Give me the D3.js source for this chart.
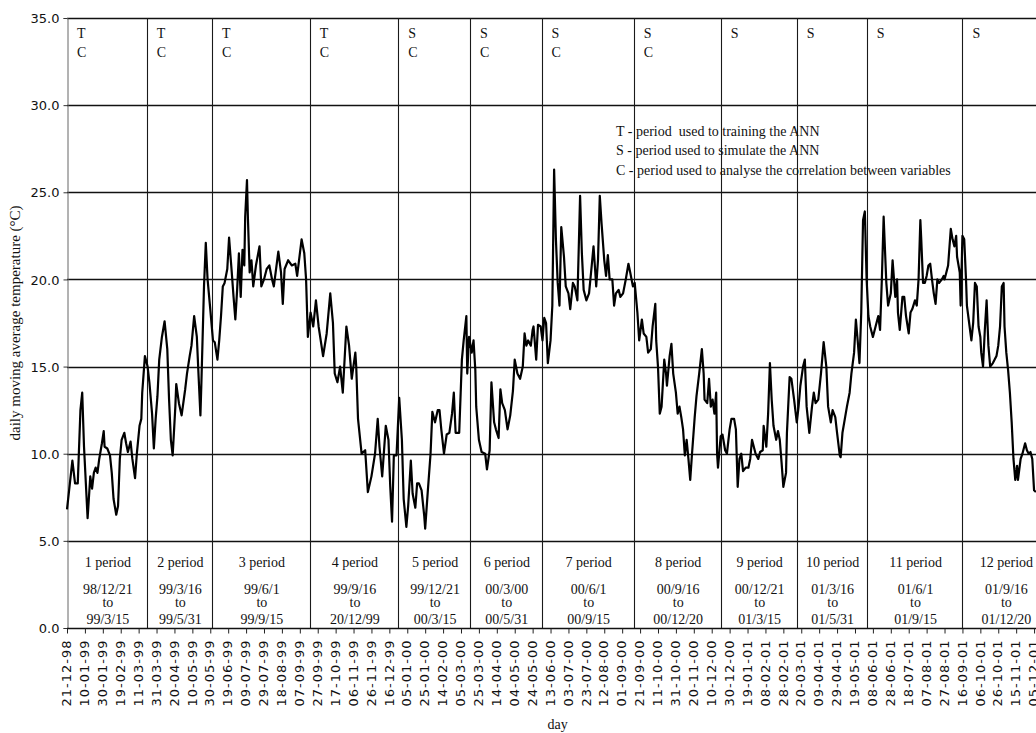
<!DOCTYPE html>
<html>
<head>
<meta charset="utf-8">
<script src="https://cdn.jsdelivr.net/npm/d3@7"></script>
<style>
  body { margin: 0; background: #fff; }
  svg { display: block; }
</style>
</head>
<body>
<svg id="chart" width="1036" height="733"></svg>
<script>
// Day labels along the x axis, one every 20 days from 21-12-98
const tickLabels = [
  "21-12-98","10-01-99","30-01-99","19-02-99","11-03-99","31-03-99","20-04-99","10-05-99",
  "30-05-99","19-06-99","09-07-99","29-07-99","18-08-99","07-09-99","27-09-99","17-10-99",
  "06-11-99","26-11-99","16-12-99","05-01-00","25-01-00","14-02-00","05-03-00","25-03-00",
  "14-04-00","04-05-00","24-05-00","13-06-00","03-07-00","23-07-00","12-08-00","01-09-00",
  "21-09-00","11-10-00","31-10-00","20-11-00","10-12-00","30-12-00","19-01-01","08-02-01",
  "28-02-01","20-03-01","09-04-01","29-04-01","19-05-01","08-06-01","28-06-01","18-07-01",
  "07-08-01","27-08-01","16-09-01","06-10-01","26-10-01","15-11-01","05-12-01"
];
const tickStepDays = 20;
const totalDays = 1096;

// Daily moving average temperature (°C): day number since 21-12-98 and value
const readingDays = [
  0,6,9,12,15,17,19,23,26,28,30,32,34,36,39,41,42,45,48,50,52,55,57,59,61,64,66,68,71,73,76,78,81,83,84,87,90,92,95,97,99,
  101,103,106,109,112,114,116,118,121,122,125,128,132,134,137,139,142,145,147,149,150,153,155,157,160,163,165,168,170,172,174,176,179,
  181,184,186,188,190,192,194,196,198,199,201,202,204,206,208,211,215,217,220,223,226,229,231,236,239,241,243,247,251,255,257,
  262,265,267,269,272,275,278,281,286,290,294,297,299,302,305,308,312,315,318,322,323,325,329,333,336,340,344,347,349,352,356,359,
  361,363,365,368,371,374,376,379,381,384,386,389,391,393,396,399,400,403,406,408,411,414,416,418,421,424,427,430,432,434,438,
  441,443,446,447,449,452,454,456,457,460,463,467,469,472,474,477,479,482,484,486,489,492,495,498,500,503,506,509,511,513,515,
  518,520,521,524,526,529,531,533,535,537,540,542,544,546,548,550,552,555,557,560,562,565,567,570,573,575,577,580,583,586,588,
  590,591,593,595,597,600,602,604,606,609,611,613,616,618,621,624,627,629,632,634,637,639,642,644,647,649,652,654,657,658,660,
  662,664,667,669,670,673,675,677,680,682,684,686,688,690,692,694,696,698,701,703,706,709,711,712,715,717,
  719,721,723,725,726,727,730,732,735,737,740,742,745,747,749,751,753,755,758,761,763,765,767,769,772,774,777,778,781,783,785,
  787,789,792,794,796,798,800,803,804,807,809,812,815,817,819,822,824,826,829,832,834,836,839,842,845,848,850,853,855,858,860,
  863,864,866,869,871,874,876,879,881,883,885,887,889,891,893,895,897,900,903,906,908,910,912,915,917,920,922,925,927,928,930,
  933,935,937,940,942,944,947,949,951,953,954,956,958,960,962,964,966,968,970,972,974,977,979,980,982,984,987,989,991,993,994,
  997,998,1000,1002,1004,1005,1008,1010,1012,1014,1016,1018,1020,1021,1023,1025,1027,1029,1031,1034,1036,1038,1040,1042,1044,
  1046,1047,1049,1051,1053,1055,1057,1059,1061,1062,1065,1067,1070,1072,1074,1076,1078,1080,1082
];
const readingTemps = [
  6.8,9.6,8.3,8.3,12.5,13.5,10.4,6.3,8.7,8.0,8.9,9.2,8.9,9.7,10.6,11.3,10.4,10.3,9.9,8.9,7.4,6.5,7.0,9.7,10.8,11.2,10.6,10.1,10.7,9.7,8.6,10.0,11.6,12.0,13.5,15.6,15.0,14.1,12.3,10.3,12.0,
  13.3,15.4,16.7,17.6,16.0,13.1,10.8,9.9,12.7,14.0,12.9,12.2,13.7,14.6,15.6,16.2,17.9,16.7,14.4,12.2,13.9,19.6,22.1,20.0,18.3,16.5,16.4,15.4,16.5,17.9,19.6,19.8,20.6,
  22.4,20.4,19.0,17.7,19.4,21.5,19.0,21.7,20.8,23.6,25.7,23.6,20.4,21.1,19.6,20.8,21.9,19.6,20.0,20.6,20.8,20.0,19.6,21.6,20.4,18.6,20.6,21.1,20.8,20.9,20.2,
  22.3,21.5,20.0,16.7,18.1,17.3,18.8,17.3,15.6,16.9,19.2,17.5,14.6,14.1,15.0,13.5,17.3,16.2,14.3,15.8,15.0,12.0,10.0,10.2,7.8,8.7,10.0,12.0,10.4,8.7,11.6,10.8,
  8.1,6.1,9.9,9.9,13.2,10.8,7.4,5.8,7.0,9.6,7.7,6.9,8.3,8.3,7.9,6.4,5.7,7.9,10.0,12.4,11.8,12.5,12.5,11.4,10.0,11.1,11.2,12.3,13.5,11.2,11.2,
  15.4,16.5,17.9,14.6,16.7,15.8,16.5,14.8,12.7,10.8,10.1,10.0,9.1,10.2,14.1,11.8,11.4,10.9,13.7,12.9,12.5,11.4,12.2,13.6,15.4,14.6,14.3,15.0,16.9,16.2,16.5,
  16.2,17.1,17.3,15.4,17.4,17.3,16.5,17.8,17.5,15.2,16.5,18.5,26.3,22.3,19.8,18.5,23.0,21.3,19.6,19.2,18.3,19.8,19.6,18.8,24.8,21.5,19.4,18.8,19.2,20.8,21.9,
  20.4,19.6,21.1,24.8,23.2,21.1,20.2,21.4,20.0,20.0,18.5,19.2,19.4,19.0,19.2,20.0,20.9,20.4,19.6,19.8,18.1,16.5,17.7,16.9,16.7,15.8,16.0,17.3,18.6,16.5,15.0,
  12.3,12.7,15.4,14.6,13.9,15.6,16.3,14.6,13.5,12.3,12.7,12.1,11.4,9.9,10.8,9.7,8.5,10.0,12.1,13.3,14.6,16.0,14.6,13.1,12.9,14.3,
  12.7,13.1,12.3,13.5,10.0,9.2,11.0,11.1,10.2,10.0,11.4,12.0,12.0,11.4,8.1,9.7,10.0,9.0,9.2,9.2,9.7,10.8,10.4,10.0,9.7,10.1,10.2,11.6,10.4,12.3,15.2,
  13.1,11.6,10.8,11.3,10.8,9.5,8.1,8.9,11.2,14.4,14.3,13.1,11.8,12.7,13.9,15.0,15.4,12.7,11.2,12.7,13.5,12.9,13.1,14.6,16.4,15.0,12.7,11.8,12.5,12.1,11.2,
  9.9,9.8,11.2,12.1,12.7,13.5,14.6,15.8,17.7,16.5,15.2,18.1,23.4,23.9,20.0,17.9,17.3,16.7,17.3,17.9,17.1,20.0,23.6,19.8,18.5,19.2,21.1,19.0,20.0,18.1,17.1,
  19.0,19.0,17.9,16.9,18.1,18.3,18.8,18.5,20.0,23.4,22.3,19.8,19.8,20.2,20.8,20.9,20.0,19.2,18.6,20.0,19.8,20.0,20.2,20.0,20.4,20.8,22.9,22.3,21.9,22.5,21.3,
  20.4,18.5,22.5,22.3,20.0,18.5,17.3,16.5,17.5,19.8,19.6,17.3,16.7,15.8,15.0,17.1,18.8,16.2,15.0,15.2,15.4,15.6,16.2,17.3,19.6,
  19.8,17.3,15.8,14.8,13.5,11.8,9.7,8.5,9.3,8.5,9.7,10.0,10.6,10.2,10.0,10.1,9.7,7.9,7.8
];

// Analysis periods: first day of each period (days since 21-12-98)
const periodStartDays = [0, 89, 162, 271, 370, 450, 530, 633, 730, 815, 893, 1000];
const periodNames = ["1 period","2 period","3 period","4 period","5 period","6 period",
                     "7 period","8 period","9 period","10 period","11 period","12 period"];
const periodFrom = ["98/12/21","99/3/16","99/6/1","99/9/16","99/12/21","00/3/00",
                    "00/6/1","00/9/16","00/12/21","01/3/16","01/6/1","01/9/16"];
const periodTo = ["99/3/15","99/5/31","99/9/15","20/12/99","00/3/15","00/5/31",
                  "00/9/15","00/12/20","01/3/15","01/5/31","01/9/15","01/12/20"];
const periodUse = [["T","C"],["T","C"],["T","C"],["T","C"],["S","C"],["S","C"],
                   ["S","C"],["S","C"],["S"],["S"],["S"],["S"]];

const legendLines = [
  "T - period  used to training the ANN",
  "S - period used to simulate the ANN",
  "C - period used to analyse the correlation between variables"
];
const yTicks = [0, 5, 10, 15, 20, 25, 30, 35];

// ---- layout ----
const svg = d3.select("#chart");
const plotLeft = 67, plotTop = 18, plotBottom = 628, plotRight = 1048.4;

const x = d3.scaleLinear().domain([0, totalDays]).range([plotLeft, plotRight]);
const y = d3.scaleLinear().domain([0, 35]).range([plotBottom, plotTop]);

const serif = "'Liberation Serif', 'Times New Roman', serif";
const sans = "'DejaVu Sans', Verdana, sans-serif";

// horizontal grid lines
svg.append("g")
  .selectAll("line")
  .data(yTicks.filter(d => d > 0))
  .join("line")
  .attr("x1", plotLeft).attr("x2", plotRight)
  .attr("y1", d => Math.round(y(d)) + 0.5).attr("y2", d => Math.round(y(d)) + 0.5)
  .attr("stroke", "#111").attr("stroke-width", 1.3);

// period separators across the full plot height
svg.append("g")
  .selectAll("line")
  .data(periodStartDays.slice(1))
  .join("line")
  .attr("x1", d => Math.round(x(d)) + 0.5).attr("x2", d => Math.round(x(d)) + 0.5)
  .attr("y1", plotTop).attr("y2", plotBottom)
  .attr("stroke", "#1a1a1a").attr("stroke-width", 1.1);

// y axis
const yAxis = d3.axisLeft(y).tickValues(yTicks).tickSize(4).tickFormat(d3.format(".1f"));
const gy = svg.append("g").attr("transform", `translate(${plotLeft + 0.5},0)`).call(yAxis);
gy.select(".domain").attr("stroke", "#666");
gy.selectAll(".tick line").attr("stroke", "#333");
gy.selectAll(".tick text")
  .attr("font-family", sans).attr("font-size", 13).attr("fill", "#111")
  .attr("x", -8).attr("dy", "0.36em");

// x axis
const tickDays = tickLabels.map((_, i) => i * tickStepDays);
const xAxis = d3.axisBottom(x).tickValues(tickDays).tickSize(5)
  .tickFormat((d, i) => tickLabels[i]);
const gx = svg.append("g").attr("transform", `translate(0,${plotBottom + 0.5})`).call(xAxis);
gx.select(".domain").attr("stroke", "#111").attr("stroke-width", 1.3)
  .attr("d", `M${plotLeft},0H${plotRight}`);
gx.selectAll(".tick line").attr("stroke", "#222");
gx.selectAll(".tick text")
  .attr("font-family", sans).attr("font-size", 13).attr("fill", "#111")
  .attr("letter-spacing", "1px")
  .attr("text-anchor", "end")
  .attr("transform", "translate(-1,11) rotate(-90)")
  .attr("x", 0).attr("y", 0).attr("dy", "0.36em");

// period usage letters at the top of each period
const pg = svg.append("g").attr("font-family", serif).attr("font-size", 14).attr("fill", "#111");
periodStartDays.forEach((start, i) => {
  periodUse[i].forEach((code, j) => {
    pg.append("text")
      .attr("x", x(start) + 10)
      .attr("y", 38 + j * 19)
      .text(code);
  });
});

// period boxes along the bottom
periodStartDays.forEach((start, i) => {
  const end = i + 1 < periodStartDays.length ? periodStartDays[i + 1] : totalDays;
  const cx = (x(start) + x(end)) / 2 + 1;
  pg.append("text").attr("x", cx).attr("y", 567).attr("text-anchor", "middle").text(periodNames[i]);
  pg.append("text").attr("x", cx).attr("y", 594).attr("text-anchor", "middle").text(periodFrom[i]);
  pg.append("text").attr("x", cx).attr("y", 607).attr("text-anchor", "middle").text("to");
  pg.append("text").attr("x", cx).attr("y", 624).attr("text-anchor", "middle").text(periodTo[i]);
});

// key for the usage letters
svg.append("g").attr("font-family", serif).attr("font-size", 14).attr("fill", "#111")
  .selectAll("text")
  .data(legendLines)
  .join("text")
  .attr("x", 616)
  .attr("y", (d, i) => [136, 155, 175][i])
  .attr("xml:space", "preserve")
  .style("white-space", "pre")
  .text(d => d);

// temperature series
const points = readingDays.map((d, i) => [d, readingTemps[i]]);
svg.append("path")
  .datum(points)
  .attr("fill", "none")
  .attr("stroke", "#000")
  .attr("stroke-width", 2.2)
  .attr("stroke-linejoin", "round")
  .attr("d", d3.line().x(p => x(p[0])).y(p => y(p[1])));

// axis titles
svg.append("text")
  .attr("transform", `translate(20,${323}) rotate(-90)`)
  .attr("text-anchor", "middle")
  .attr("font-family", serif).attr("font-size", 15).attr("fill", "#111")
  .text("daily moving average temperature (°C)");

svg.append("text")
  .attr("x", (plotLeft + plotRight) / 2)
  .attr("y", 729)
  .attr("text-anchor", "middle")
  .attr("font-family", serif).attr("font-size", 14).attr("fill", "#111")
  .text("day");
</script>
</body>
</html>
